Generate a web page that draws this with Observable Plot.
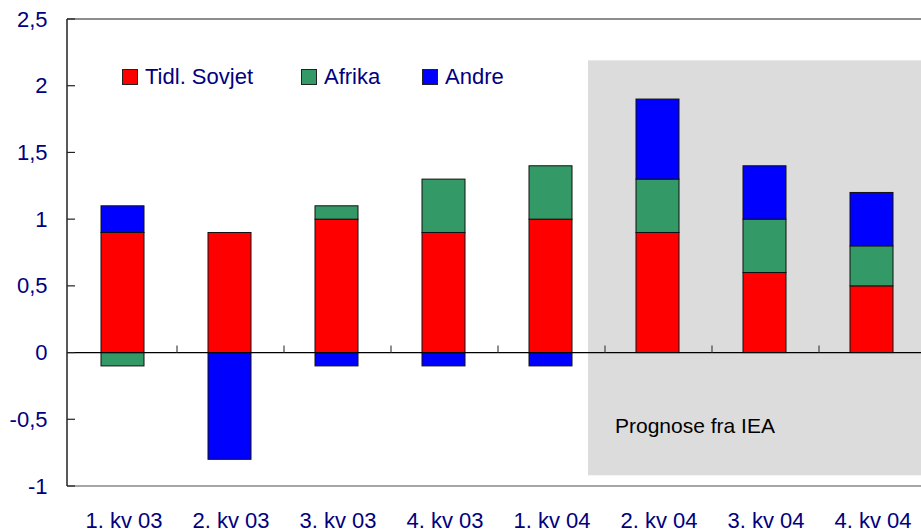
<!DOCTYPE html>
<html>
<head>
<meta charset="utf-8">
<script src="https://cdn.jsdelivr.net/npm/d3@7"></script>
<script src="https://cdn.jsdelivr.net/npm/@observablehq/plot@0.6"></script>
<style>
  html, body { margin: 0; padding: 0; background: #fff; overflow: hidden; }
  #wrap { position: relative; width: 921px; height: 532px; overflow: hidden; }
  #wrap svg { max-width: none !important; }
  .leg { position: absolute; top: 64px; font-family: "Liberation Sans", Arial, sans-serif; font-size: 22px; color: #000080; display: flex; align-items: center; white-space: nowrap; }
  .sw { width: 14px; height: 14px; border: 1px solid #222; margin-right: 7px; }
</style>
</head>
<body>
<div id="wrap"></div>
<script>
const quarters = ["1. kv 03", "2. kv 03", "3. kv 03", "4. kv 03", "1. kv 04", "2. kv 04", "3. kv 04", "4. kv 04"];
const seriesNames = ["Tidl. Sovjet", "Afrika", "Andre"];
const seriesColors = ["#ff0000", "#339966", "#0000ff"];
const sovjet = [0.9, 0.9, 1.0, 0.9, 1.0, 0.9, 0.6, 0.5];
const afrika = [-0.1, 0.0, 0.1, 0.4, 0.4, 0.4, 0.4, 0.3];
const andre  = [0.2, -0.8, -0.1, -0.1, -0.1, 0.6, 0.4, 0.4];
const yTicks = [-1, -0.5, 0, 0.5, 1, 1.5, 2, 2.5];
const forecastStart = "2. kv 04";
const forecastLabel = "Prognose fra IEA";

const seriesValues = [sovjet, afrika, andre];
const data = [];
quarters.forEach((q, i) => {
  seriesNames.forEach((s, j) => data.push({q, s, v: seriesValues[j][i]}));
});

const fmt = d => String(d).replace(".", ",");

// background shaded forecast area
function forecastBox(index, scales) {
  const {x, y} = scales;
  const step = x(quarters[1]) - x(quarters[0]);
  const g = d3.create("svg:g");
  g.append("rect")
    .attr("x", x(forecastStart) - 17)
    .attr("y", y(2.19))
    .attr("width", step * 3 + 40)
    .attr("height", y(-0.92) - y(2.19))
    .attr("fill", "#dcdcdc");
  g.append("text")
    .attr("x", x(forecastStart) + 10)
    .attr("y", y(-0.55))
    .attr("dy", "0.35em")
    .attr("text-anchor", "start")
    .attr("font-size", 21)
    .attr("fill", "#000")
    .text(forecastLabel);
  return g.node();
}

// frame, zero line and tick marks
function frame(index, scales, values, dims) {
  const {x, y} = scales;
  const left = dims.marginLeft;
  const right = dims.width - dims.marginRight;
  const g = d3.create("svg:g");
  g.append("line").attr("x1", left).attr("x2", right).attr("y1", y(2.5)).attr("y2", y(2.5))
    .attr("stroke", "#666").attr("stroke-width", 1.5);
  g.append("line").attr("x1", left).attr("x2", right).attr("y1", y(-1)).attr("y2", y(-1))
    .attr("stroke", "#888").attr("stroke-width", 1.5);
  g.append("line").attr("x1", left).attr("x2", right).attr("y1", y(0)).attr("y2", y(0))
    .attr("stroke", "#000").attr("stroke-width", 1.2);
  g.append("line").attr("x1", left).attr("x2", left).attr("y1", y(2.5)).attr("y2", y(-1))
    .attr("stroke", "#222").attr("stroke-width", 1.5);
  yTicks.forEach(t => {
    g.append("line").attr("x1", left).attr("x2", left + 8).attr("y1", y(t)).attr("y2", y(t))
      .attr("stroke", "#222").attr("stroke-width", 1.2);
  });
  quarters.slice(1).forEach(q => {
    const xx = x(q);
    g.append("line").attr("x1", xx).attr("x2", xx).attr("y1", y(0)).attr("y2", y(0) - 7)
      .attr("stroke", "#444").attr("stroke-width", 1.2);
  });
  return g.node();
}

const chart = Plot.plot({
  width: 929,
  height: 532,
  marginLeft: 67,
  marginRight: 0,
  marginTop: 19,
  marginBottom: 46,
  style: {fontFamily: "'Liberation Sans', Arial, sans-serif", fontSize: "22px", color: "#000080", background: "transparent", overflow: "visible", maxWidth: "none"},
  x: {domain: quarters, padding: 0, label: null, tickSize: 0, tickPadding: 26},
  y: {domain: [-1, 2.5], ticks: yTicks, tickFormat: fmt, label: null, tickSize: 0, tickPadding: 20},
  color: {domain: seriesNames, range: seriesColors},
  marks: [
    forecastBox,
    Plot.barY(data, {x: "q", y: "v", fill: "s", order: seriesNames, stroke: "#111", strokeWidth: 1, insetLeft: 31, insetRight: 33}),
    frame
  ]
});

const wrap = document.getElementById("wrap");
wrap.appendChild(chart);

const legendLeft = [122, 301, 422];
seriesNames.forEach((s, i) => {
  const item = document.createElement("div");
  item.className = "leg";
  item.style.left = legendLeft[i] + "px";
  const sw = document.createElement("div");
  sw.className = "sw";
  sw.style.background = seriesColors[i];
  const label = document.createElement("span");
  label.textContent = s;
  item.appendChild(sw);
  item.appendChild(label);
  wrap.appendChild(item);
});
</script>
</body>
</html>
